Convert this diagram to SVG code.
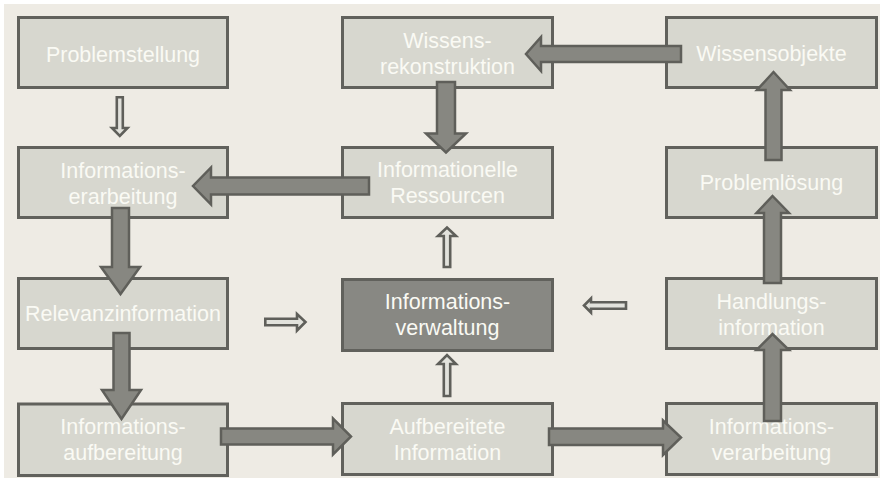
<svg xmlns="http://www.w3.org/2000/svg" width="883" height="484" viewBox="0 0 883 484">
<style>
.box{fill:#D7D7CF;stroke:#61615C;stroke-width:3}
.dark{fill:#888883;stroke:#61615C;stroke-width:3}
.t{font-family:"Liberation Sans",Arial,sans-serif;font-size:21.5px;fill:#FAFAF4;text-anchor:middle}
.big{fill:#878781;stroke:#5F5F5A;stroke-width:2.5;stroke-linejoin:miter}
.thin{fill:#E2E2DC;stroke:#5F5F5A;stroke-width:2.6;stroke-linejoin:miter}
</style>
<rect x="0" y="0" width="883" height="484" fill="#FFFFFF"/>
<rect x="4" y="4" width="876" height="474" fill="#EEEBE4"/>

<g id="problemstellung"><rect class="box" x="18.5" y="17.5" width="209" height="70"/><text class="t" x="123" y="62">Problemstellung</text></g>
<g id="informationserarbeitung"><rect class="box" x="18.5" y="147.5" width="209" height="70"/><text class="t" x="123" y="178">Informations-</text><text class="t" x="123" y="204">erarbeitung</text></g>
<g id="relevanzinformation"><rect class="box" x="18.5" y="278.5" width="209" height="70"/><text class="t" x="123" y="321">Relevanzinformation</text></g>
<g id="informationsaufbereitung"><rect class="box" x="18.5" y="404" width="209" height="71.5"/><text class="t" x="123" y="434">Informations-</text><text class="t" x="123" y="460">aufbereitung</text></g>

<g id="wissensrekonstruktion"><rect class="box" x="342.5" y="17.5" width="210" height="70"/><text class="t" x="447.5" y="48">Wissens-</text><text class="t" x="447.5" y="74">rekonstruktion</text></g>
<g id="informationelleressourcen"><rect class="box" x="342.5" y="147.5" width="210" height="70"/><text class="t" x="447.5" y="177">Informationelle</text><text class="t" x="447.5" y="203">Ressourcen</text></g>
<g id="informationsverwaltung"><rect class="dark" x="342.5" y="279.5" width="210" height="71"/><text class="t" x="447.5" y="309" fill="#FFFFFF">Informations-</text><text class="t" x="447.5" y="335" fill="#FFFFFF">verwaltung</text></g>
<g id="aufbereiteteinformation"><rect class="box" x="342.5" y="403.5" width="210" height="71"/><text class="t" x="447.5" y="434">Aufbereitete</text><text class="t" x="447.5" y="460">Information</text></g>

<g id="wissensobjekte"><rect class="box" x="666.5" y="17.5" width="210" height="70"/><text class="t" x="771.5" y="61">Wissensobjekte</text></g>
<g id="problemloesung"><rect class="box" x="666.5" y="147.5" width="210" height="70"/><text class="t" x="771.5" y="190">Problemlösung</text></g>
<g id="handlungsinformation"><rect class="box" x="666.5" y="278.5" width="210" height="70"/><text class="t" x="771.5" y="309">Handlungs-</text><text class="t" x="771.5" y="335">information</text></g>
<g id="informationsverarbeitung"><rect class="box" x="666.5" y="403.5" width="210" height="71"/><text class="t" x="771.5" y="434">Informations-</text><text class="t" x="771.5" y="460">verarbeitung</text></g>

<g id="connectors">
<polygon class="big" points="369,177.5 211,177.5 211,167.5 193,186 211,204.5 211,194.5 369,194.5"/>
<polygon class="big" points="681,46 541,46 541,37 526,54 541,71 541,62 681,62"/>
<polygon class="big" points="437,82 455,82 455,133.5 466,133.5 446,152.5 426,133.5 437,133.5"/>
<polygon class="big" points="765.5,160 765.5,90 757,90 773.5,72 790,90 781.5,90 781.5,160"/>
<polygon class="big" points="764,283 764,213 756.5,213 772.5,196 789,213 781,213 781,283"/>
<polygon class="big" points="764,421 764,350 756.5,350 772.5,334 789,350 781,350 781,421"/>
<polygon class="big" points="112,208 129,208 129,267 140,267 120.5,294 101,267 112,267"/>
<polygon class="big" points="113.5,333 129.5,333 129.5,390 141,390 121.5,419 102,390 113.5,390"/>
<polygon class="big" points="221,428.5 333,428.5 333,418.5 351,436.5 333,454.5 333,444.5 221,444.5"/>
<polygon class="big" points="549,428.5 663,428.5 663,420.5 681,437.5 663,455 663,445 549,445"/>

<polygon class="thin" points="116.8,97.3 122.8,97.3 122.8,128 127.5,128 119.8,136 112,128 116.8,128"/>
<polygon class="thin" points="265.3,318.8 297,318.8 297,314 305.5,322 297,330.5 297,325.2 265.3,325.2"/>
<polygon class="thin" points="443.8,267 443.8,236 438,236 447,227.5 456,236 450.2,236 450.2,267"/>
<polygon class="thin" points="443.8,396 443.8,364 438,364 447,355 456,364 450.2,364 450.2,396"/>
<polygon class="thin" points="626,302.3 591,302.3 591,298.5 584,305.5 591,312.5 591,308.7 626,308.7"/>
</g>
</svg>
